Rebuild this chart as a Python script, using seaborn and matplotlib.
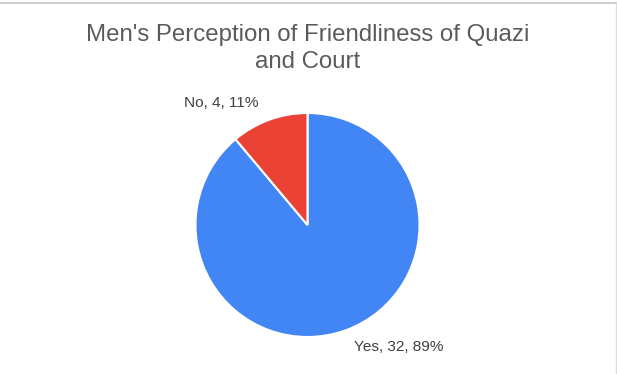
import matplotlib
matplotlib.use("Agg")
import matplotlib.pyplot as plt
import seaborn as sns
import numpy as np
from matplotlib.lines import Line2D

# Survey responses
categories = ["Yes", "No"]
counts = [32, 4]
colors = ["#4285F4", "#EA4335"]
title = "Men's Perception of Friendliness of Quazi\nand Court"

sns.set_theme(style="white")
plt.rcParams["font.family"] = ["Liberation Sans", "DejaVu Sans"]

W, H = 617, 374
fig = plt.figure(figsize=(W / 100, H / 100), dpi=100)
fig.patch.set_facecolor("white")

# Axes spans the full canvas in pixel units (y measured upward)
ax = fig.add_axes([0, 0, 1, 1])
ax.set_aspect("equal")

cx, cy, r = 307.5, H - 225, 112
wedges, _ = ax.pie(
    counts,
    colors=colors,
    startangle=90,
    counterclock=False,
    center=(cx, cy),
    radius=r,
    wedgeprops=dict(edgecolor="white", linewidth=1.5),
    frame=True,
)
ax.set_xlim(0, W)
ax.set_ylim(0, H)
ax.axis("off")

total = sum(counts)
label_pos = {"No": (221, H - 103), "Yes": (399, H - 347)}
for cat, val in zip(categories, counts):
    pct = round(100 * val / total)
    x, y = label_pos[cat]
    ax.text(x, y, f"{cat}, {val}, {pct}%", ha="center", va="center",
            fontsize=11.1, color="#404040")

fig.text(308 / W, 1 - 48.5 / H, title, ha="center", va="center",
         fontsize=17.3, color="#5b5b5b", linespacing=1.3)

# Frame lines along top and right edges
fig.add_artist(Line2D([0, 616.5 / W], [1 - 2.5 / H] * 2, transform=fig.transFigure,
                      color="#cfcfcf", linewidth=1.5))
fig.add_artist(Line2D([616 / W] * 2, [0, 1 - 2.5 / H], transform=fig.transFigure,
                      color="#dcdcdc", linewidth=1))

fig.savefig("out.png", dpi=100, facecolor="white")
